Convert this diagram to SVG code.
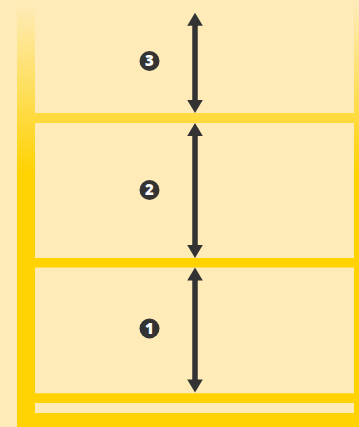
<svg xmlns="http://www.w3.org/2000/svg" width="359" height="427" viewBox="0 0 359 427">
  <defs>
    <linearGradient id="frameGrad" gradientUnits="userSpaceOnUse" x1="0" y1="5" x2="0" y2="175">
      <stop offset="0" stop-color="#FFD200" stop-opacity="0"/>
      <stop offset="1" stop-color="#FFD200" stop-opacity="1"/>
    </linearGradient>
    <style>
      .frame { fill: url(#frameGrad); }
      .num-circle { fill: #333333; }
      .num { fill: #FFFFFF; font-family: "Open Sans", "DejaVu Sans", sans-serif; font-weight: 800; font-size: 15px; text-anchor: middle; }
      .shaft { stroke: #333333; stroke-width: 5.5; fill: none; }
      .head { fill: #333333; }
    </style>
  </defs>
  <rect x="0" y="0" width="359" height="427" fill="#FEEBB7"/>
  <g id="frame">
    <rect class="frame" x="17" y="0" width="18" height="427"/>
    <rect class="frame" x="354" y="0" width="5" height="427"/>
    <rect class="frame" x="35" y="113" width="319" height="10"/>
    <rect class="frame" x="35" y="258" width="319" height="9.5"/>
    <rect class="frame" x="35" y="393.3" width="324" height="9.7"/>
    <rect class="frame" x="35" y="413" width="324" height="14"/>
  </g>
  <g id="connectors">
    <g id="arrow3">
      <line class="shaft" x1="195" y1="24" x2="195" y2="103"/>
      <path class="head" d="M195,12.7 L187.2,25.7 L202.8,25.7 Z"/>
      <path class="head" d="M195,113 L187.2,100 L202.8,100 Z"/>
    </g>
    <g id="arrow2">
      <line class="shaft" x1="195" y1="134" x2="195" y2="247"/>
      <path class="head" d="M195,123 L187.2,136 L202.8,136 Z"/>
      <path class="head" d="M195,258 L187.2,245 L202.8,245 Z"/>
    </g>
    <g id="arrow1">
      <line class="shaft" x1="195" y1="278" x2="195" y2="382"/>
      <path class="head" d="M195,267.5 L187.2,280.5 L202.8,280.5 Z"/>
      <path class="head" d="M195,392.5 L187.2,379.5 L202.8,379.5 Z"/>
    </g>
  </g>
  <g id="label3">
    <circle class="num-circle" cx="149.5" cy="61" r="10"/>
    <text class="num" x="149.5" y="66.3">3</text>
  </g>
  <g id="label2">
    <circle class="num-circle" cx="149.5" cy="190" r="10"/>
    <text class="num" x="149.5" y="195.3">2</text>
  </g>
  <g id="label1">
    <circle class="num-circle" cx="149.5" cy="328.5" r="10"/>
    <text class="num" x="149.5" y="333.8">1</text>
  </g>
</svg>
